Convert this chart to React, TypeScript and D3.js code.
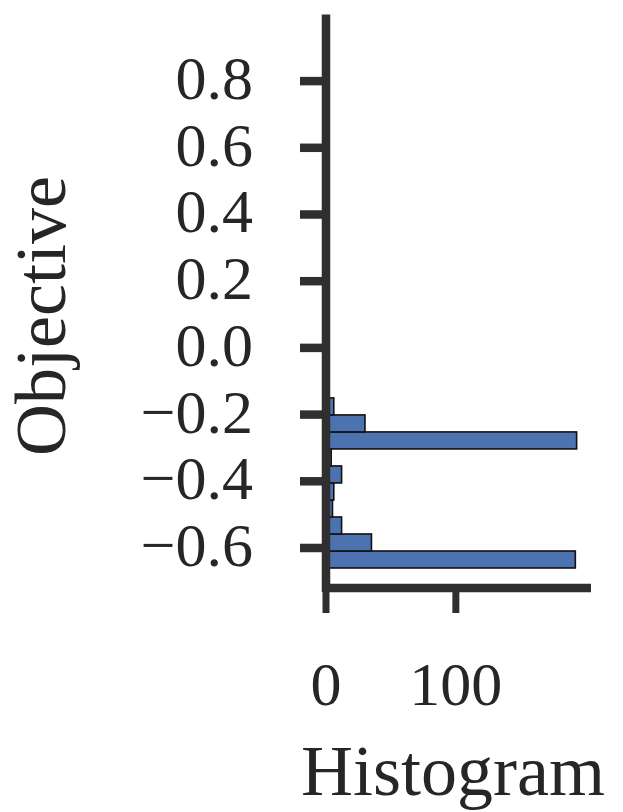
import React from "react";
import * as d3 from "d3";

const binEdges = [-0.66, -0.609, -0.558, -0.507, -0.456, -0.405, -0.354, -0.303, -0.252, -0.201, -0.15];
const counts = [192, 35, 12, 5, 6, 12, 4, 193, 30, 6];
const yTicks = [-0.6, -0.4, -0.2, 0.0, 0.2, 0.4, 0.6, 0.8];
const xTicks = [0, 100];
const xLabel = "Histogram";
const yLabel = "Objective";

const W = 623;
const H = 812;
const AX = "#2f2f2f";
const FONT = "'Liberation Serif', 'DejaVu Serif', serif";

export default function App() {
  const y = d3.scaleLinear().domain([-0.72, 1.0]).range([588, 14.4]);
  const x = d3.scaleLinear().domain([0, 203.3]).range([326, 590]);
  const bins = counts.map((c, i) => ({ c, lo: binEdges[i], hi: binEdges[i + 1] }));
  const fmt = (v: number) => {
    const s = Math.abs(v).toFixed(1);
    return v < -1e-9 ? "\u2212" + s : s;
  };
  return (
    <svg width={W} height={H} style={{ position: "absolute", left: 0, top: 0, background: "#fff" }}>
      <rect x={0} y={0} width={W} height={H} fill="#fff" />
      {bins.map((b, i) => (
        <rect
          key={i}
          x={x(0)}
          y={y(b.hi)}
          width={x(b.c) - x(0)}
          height={y(b.lo) - y(b.hi)}
          fill="#4c72b0"
          stroke="#111"
          strokeWidth={1.6}
        />
      ))}
      {/* y axis */}
      <line x1={326} x2={326} y1={y(1.0)} y2={592} stroke={AX} strokeWidth={8.5} />
      {yTicks.map((t) => (
        <g key={t}>
          <line x1={300} x2={326} y1={y(t)} y2={y(t)} stroke={AX} strokeWidth={8.5} />
          <text x={253} y={y(t) + 18} textAnchor="end" fontFamily={FONT} fontSize={62} fill="#262626">
            {fmt(t)}
          </text>
        </g>
      ))}
      {/* x axis */}
      <line x1={322} x2={591} y1={588} y2={588} stroke={AX} strokeWidth={8.5} />
      {xTicks.map((t) => (
        <g key={t}>
          <line x1={x(t)} x2={x(t)} y1={588} y2={613} stroke={AX} strokeWidth={7} />
          <text x={x(t)} y={705} textAnchor="middle" fontFamily={FONT} fontSize={62} fill="#262626">
            {t}
          </text>
        </g>
      ))}
      <text x={453} y={795} textAnchor="middle" fontFamily={FONT} fontSize={72} fill="#262626">
        {xLabel}
      </text>
      <text
        transform={`translate(65, 316) rotate(-90)`}
        textAnchor="middle"
        fontFamily={FONT}
        fontSize={72}
        fill="#262626"
      >
        {yLabel}
      </text>
    </svg>
  );
}
